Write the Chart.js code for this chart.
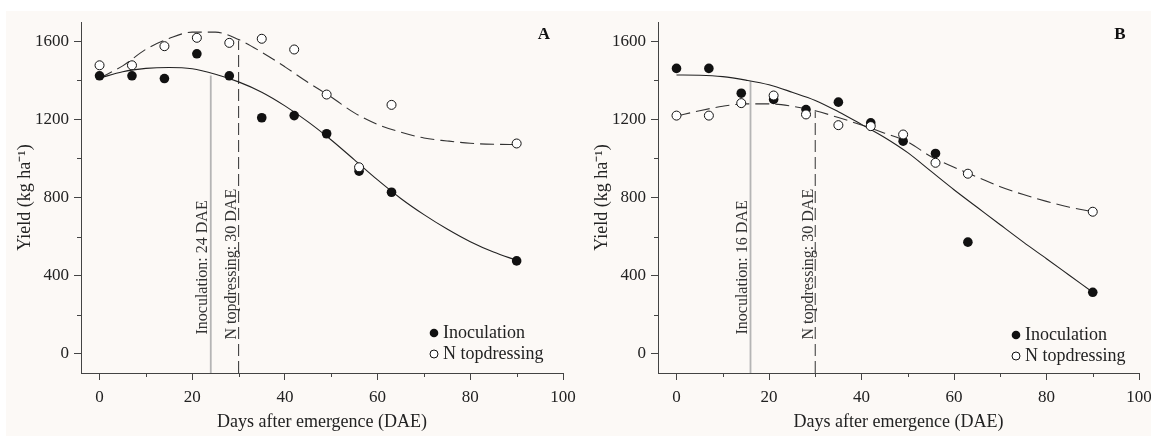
<!DOCTYPE html>
<html>
<head>
<meta charset="utf-8">
<script src="https://cdn.jsdelivr.net/npm/chart.js@4.4.1/dist/chart.umd.min.js"></script>
<style>
  body { margin: 0; background: #fff; overflow: hidden; }
  #wrap { position: absolute; left: 6px; top: 11px; width: 1145px; height: 425px; background: #fcf9f6; }
  canvas { position: absolute; top: 0; }
</style>
</head>
<body>
<div id="wrap">
  <canvas id="chartA" width="572" height="425" style="left:0"></canvas>
  <canvas id="chartB" width="569" height="425" style="left:577px"></canvas>
</div>
<script>
// sampling days and yields (kg/ha)
const days = [0, 7, 14, 21, 28, 35, 42, 49, 56, 63, 90];
const inocA = [1424, 1424, 1410, 1537, 1424, 1209, 1220, 1127, 935, 827, 475];
const topdA = [1478, 1478, 1576, 1619, 1593, 1614, 1559, 1328, 955, 1275, 1077];
const inocB = [1462, 1462, 1335, 1303, 1251, 1289, 1183, 1089, 1026, 571, 314];
const topdB = [1220, 1220, 1284, 1323, 1226, 1171, 1166, 1123, 978, 922, 727];

// fitted curves, read every 5 days
const fitDays = [0, 5, 10, 15, 20, 25, 30, 35, 40, 45, 50, 55, 60, 65, 70, 75, 80, 85, 90];
const inocFitA = [1412, 1445, 1462, 1467, 1460, 1432, 1393, 1340, 1270, 1188, 1095, 993, 890, 795, 712, 638, 573, 520, 478];
const topdFitA = [1412, 1475, 1560, 1615, 1648, 1648, 1610, 1545, 1470, 1390, 1315, 1234, 1175, 1135, 1105, 1090, 1078, 1073, 1072];
const inocFitB = [1428, 1427, 1420, 1402, 1378, 1340, 1298, 1240, 1175, 1108, 1030, 935, 840, 750, 660, 571, 486, 400, 314];
const topdFitB = [1217, 1245, 1268, 1280, 1280, 1268, 1245, 1210, 1172, 1130, 1085, 1010, 955, 905, 855, 815, 780, 750, 727];

// optimum timing markers: [inoculation, N topdressing]
const markDaysA = [24, 30];
const markTopsA = [1426, 1605];
const markDaysB = [16, 30];
const markTopsB = [1396, 1241];

const xTicks = [0, 20, 40, 60, 80, 100];
const xMinor = [10, 30, 50, 70, 90];
const yTicks = [0, 400, 800, 1200, 1600];
const yMinor = [200, 600, 1000, 1400];

Chart.defaults.font.family = "'Liberation Serif', 'Times New Roman', serif";
Chart.defaults.color = '#222';

const decor = {
    id: 'decor',
    afterDraw(chart, args, opts) {
        const {ctx, chartArea: a, scales: {x, y}} = chart;
        ctx.save();

        // minor ticks
        ctx.strokeStyle = '#444';
        ctx.lineWidth = 1;
        xMinor.forEach(v => {
            const px = Math.round(x.getPixelForValue(v)) + 0.5;
            ctx.beginPath();
            ctx.moveTo(px, a.bottom);
            ctx.lineTo(px, a.bottom + 4);
            ctx.stroke();
        });
        yMinor.forEach(v => {
            const py = Math.round(y.getPixelForValue(v)) + 0.5;
            ctx.beginPath();
            ctx.moveTo(a.left - 4, py);
            ctx.lineTo(a.left, py);
            ctx.stroke();
        });

        // rotated marker labels
        ctx.font = "16px 'Liberation Serif'";
        ctx.fillStyle = '#333';
        ctx.textAlign = 'left';
        ctx.textBaseline = 'alphabetic';
        opts.marks.forEach(m => {
            ctx.save();
            ctx.translate(x.getPixelForValue(m.day) - m.gap, y.getPixelForValue(0) - m.lift);
            ctx.rotate(-Math.PI / 2);
            ctx.fillText(m.text, 0, 0);
            ctx.restore();
        });

        // panel letter
        ctx.font = "bold 17px 'Liberation Serif'";
        ctx.fillStyle = '#111';
        ctx.textAlign = 'center';
        ctx.textBaseline = 'middle';
        ctx.fillText(opts.letter, a.right - 19, a.top + 13);

        // legend
        const lx = a.right - opts.legendX;
        const ly1 = a.bottom - opts.legendY[0];
        const ly2 = a.bottom - opts.legendY[1];
        ctx.fillStyle = '#111';
        ctx.beginPath();
        ctx.arc(lx, ly1, 4.3, 0, Math.PI * 2);
        ctx.fill();
        ctx.fillStyle = '#fff';
        ctx.strokeStyle = '#111';
        ctx.beginPath();
        ctx.arc(lx, ly2, 4, 0, Math.PI * 2);
        ctx.fill();
        ctx.stroke();
        ctx.font = "18px 'Liberation Serif'";
        ctx.fillStyle = '#222';
        ctx.textAlign = 'left';
        ctx.fillText('Inoculation', lx + 9, ly1);
        ctx.fillText('N topdressing', lx + 9, ly2);

        ctx.restore();
    }
};

function makeChart(id, cfg) {
    const ctx = document.getElementById(id).getContext('2d');
    return new Chart(ctx, {
        type: 'scatter',
        data: {
            datasets: [{
                label: 'N topdressing',
                data: days.map((d, i) => ({x: d, y: cfg.topd[i]})),
                pointRadius: 4.5,
                pointBackgroundColor: '#fff',
                pointBorderColor: '#111',
                pointBorderWidth: 1,
                order: 0
            }, {
                label: 'Inoculation',
                data: days.map((d, i) => ({x: d, y: cfg.inoc[i]})),
                pointRadius: 4.8,
                pointBackgroundColor: '#111',
                pointBorderColor: '#111',
                pointBorderWidth: 0,
                order: 1
            }, {
                type: 'line',
                data: fitDays.map((d, i) => ({x: d, y: cfg.inocFit[i]})),
                borderColor: '#222',
                borderWidth: 1.1,
                pointRadius: 0,
                cubicInterpolationMode: 'monotone',
                order: 2
            }, {
                type: 'line',
                data: fitDays.map((d, i) => ({x: d, y: cfg.topdFit[i]})),
                borderColor: '#333',
                borderWidth: 1.1,
                borderDash: [14, 6],
                pointRadius: 0,
                cubicInterpolationMode: 'monotone',
                order: 2
            }, {
                type: 'line',
                data: [{x: cfg.markDays[0], y: -100}, {x: cfg.markDays[0], y: cfg.markTops[0]}],
                borderColor: '#b5b5b5',
                borderWidth: 1.8,
                pointRadius: 0,
                order: 3
            }, {
                type: 'line',
                data: [{x: cfg.markDays[1], y: -100}, {x: cfg.markDays[1], y: cfg.markTops[1]}],
                borderColor: '#444',
                borderWidth: 1.1,
                borderDash: [12, 5],
                pointRadius: 0,
                order: 3
            }]
        },
        options: {
            responsive: false,
            animation: false,
            events: [],
            layout: {
                padding: {top: 11, right: cfg.rightPad, bottom: 0, left: 0}
            },
            plugins: {
                legend: {display: false},
                tooltip: {enabled: false},
                decor: {
                    letter: cfg.letter,
                    legendX: cfg.legendX,
                    legendY: cfg.legendY,
                    marks: [
                        {day: cfg.markDays[0], text: 'Inoculation: ' + cfg.markDays[0] + ' DAE', gap: 4, lift: 19},
                        {day: cfg.markDays[1], text: 'N topdressing: ' + cfg.markDays[1] + ' DAE', gap: 2.5, lift: 14}
                    ]
                }
            },
            scales: {
                x: {
                    type: 'linear',
                    min: -4,
                    max: 100,
                    afterBuildTicks: s => { s.ticks = xTicks.map(v => ({value: v})); },
                    afterFit: s => { s.height = 63; s.paddingLeft = 0; s.paddingRight = 0; },
                    grid: {drawOnChartArea: false, drawTicks: true, tickLength: 7, tickColor: '#444'},
                    border: {color: '#444', width: 1},
                    ticks: {padding: 7, color: '#222', font: {size: 17}, autoSkip: false, maxRotation: 0,
                        callback: v => String(v)},
                    title: {
                        display: true,
                        text: 'Days after emergence (DAE)',
                        color: '#222',
                        font: {size: 18},
                        padding: {top: 0, bottom: 3}
                    }
                },
                y: {
                    min: -100,
                    max: 1700,
                    afterBuildTicks: s => { s.ticks = yTicks.map(v => ({value: v})); },
                    afterFit: s => { s.width = 75; s.paddingTop = 0; s.paddingBottom = 0; },
                    grid: {drawOnChartArea: false, drawTicks: true, tickLength: 7, tickColor: '#444'},
                    border: {color: '#444', width: 1},
                    ticks: {padding: 5, color: '#222', font: {size: 17}, autoSkip: false,
                        callback: v => String(v)},
                    title: {
                        display: true,
                        text: 'Yield (kg ha\u207B\u00B9)',
                        color: '#222',
                        font: {size: 18},
                        padding: {top: 8, bottom: 0}
                    }
                }
            }
        },
        plugins: [decor]
    });
}

makeChart('chartA', {
    letter: 'A', inoc: inocA, topd: topdA, inocFit: inocFitA, topdFit: topdFitA,
    markDays: markDaysA, markTops: markTopsA, rightPad: 15, legendX: 129, legendY: [40, 19]
});
makeChart('chartB', {
    letter: 'B', inoc: inocB, topd: topdB, inocFit: inocFitB, topdFit: topdFitB,
    markDays: markDaysB, markTops: markTopsB, rightPad: 13, legendX: 123, legendY: [38, 17]
});
</script>
</body>
</html>
